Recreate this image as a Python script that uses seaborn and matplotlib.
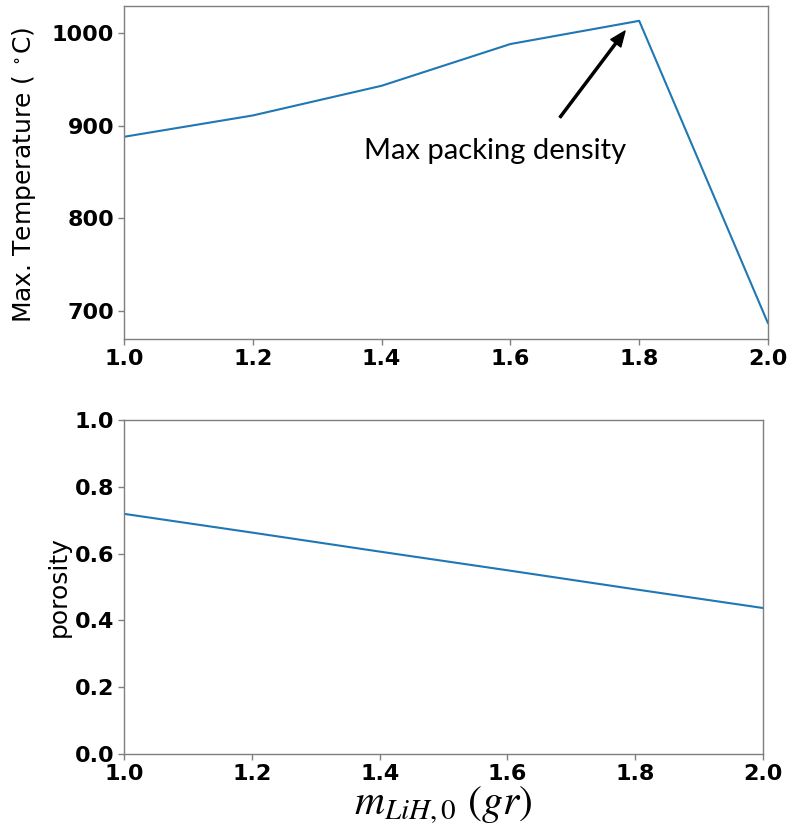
import numpy as np
import pandas as pd
import matplotlib
matplotlib.use("Agg")
import matplotlib.pyplot as plt
import seaborn as sns

# LiH initial mass (gr)
mass = [1.0, 1.2, 1.4, 1.6, 1.8, 2.0]
# Peak temperature reached for each LiH mass (deg C)
max_temp = [888, 911, 943, 988, 1013, 687]
# Bed porosity for each LiH mass
porosity = [0.719, 0.663, 0.606, 0.550, 0.493, 0.437]

temp_ticks = [700, 800, 900, 1000]
por_ticks = [0.0, 0.2, 0.4, 0.6, 0.8, 1.0]
mass_ticks = [1.0, 1.2, 1.4, 1.6, 1.8, 2.0]

sns.set_style("white")
plt.rcParams["font.family"] = ["DejaVu Sans"]
plt.rcParams["mathtext.fontset"] = "stix"
plt.rcParams["text.color"] = "black"
plt.rcParams["axes.labelcolor"] = "black"
plt.rcParams["xtick.color"] = "black"
plt.rcParams["ytick.color"] = "black"

df = pd.DataFrame({"mass": mass, "max_temp": max_temp, "porosity": porosity})

fig = plt.figure(figsize=(7.97, 8.32), dpi=100)
ax1 = fig.add_axes([0.1556, 0.5925, 0.808, 0.4003])
ax2 = fig.add_axes([0.1556, 0.0938, 0.8018, 0.4014])

line_color = "#1f77b4"
sns.lineplot(data=df, x="mass", y="max_temp", ax=ax1, color=line_color, linewidth=1.5)
sns.lineplot(data=df, x="mass", y="porosity", ax=ax2, color=line_color, linewidth=1.5)

ax1.set_xlim(1.0, 2.0)
ax1.set_ylim(670, 1029)
ax1.set_yticks(temp_ticks)
ax2.set_xlim(1.0, 2.0)
ax2.set_ylim(0.0, 1.0)
ax2.set_yticks(por_ticks)

for ax in (ax1, ax2):
    ax.set_xticks(mass_ticks)
    ax.set_xticklabels([f"{t:.1f}" for t in mass_ticks])
    for s in ax.spines.values():
        s.set_color("#7f7f7f")
        s.set_linewidth(1.0)
    ax.tick_params(axis="both", which="major", direction="out", length=4,
                   width=1.0, color="#7f7f7f", labelcolor="black",
                   labelsize=16, pad=3, bottom=True, left=True)
    ax.set_xlabel("")

ax1.set_yticklabels([str(t) for t in temp_ticks])
ax2.set_yticklabels([f"{t:.1f}" for t in por_ticks])
for ax in (ax1, ax2):
    for lab in ax.get_xticklabels() + ax.get_yticklabels():
        lab.set_fontweight("bold")

ax1.set_ylabel(r"Max. Temperature ( $^\circ$C)", fontsize=18, color="black")
ax1.yaxis.set_label_coords(-0.134, 0.494)
ax2.set_ylabel("porosity", fontsize=18, color="black")
ax2.yaxis.set_label_coords(-0.083, 0.5)

ax2.set_xlabel(r"$m_{LiH,0}\ (gr)$", fontsize=30, labelpad=0, color="black")

# Annotation of the peak
ax1.annotate("", xy=(1.778, 1002), xytext=(1.677, 909),
             arrowprops=dict(facecolor="black", edgecolor="black",
                             width=1.5, headwidth=9, headlength=11, shrink=0.0))
ax1.text(1.5755, 864, "Max packing density", fontsize=21, family=["Lato", "DejaVu Sans"],
         ha="center", va="baseline", color="black")

fig.savefig("out.png", dpi=100)
